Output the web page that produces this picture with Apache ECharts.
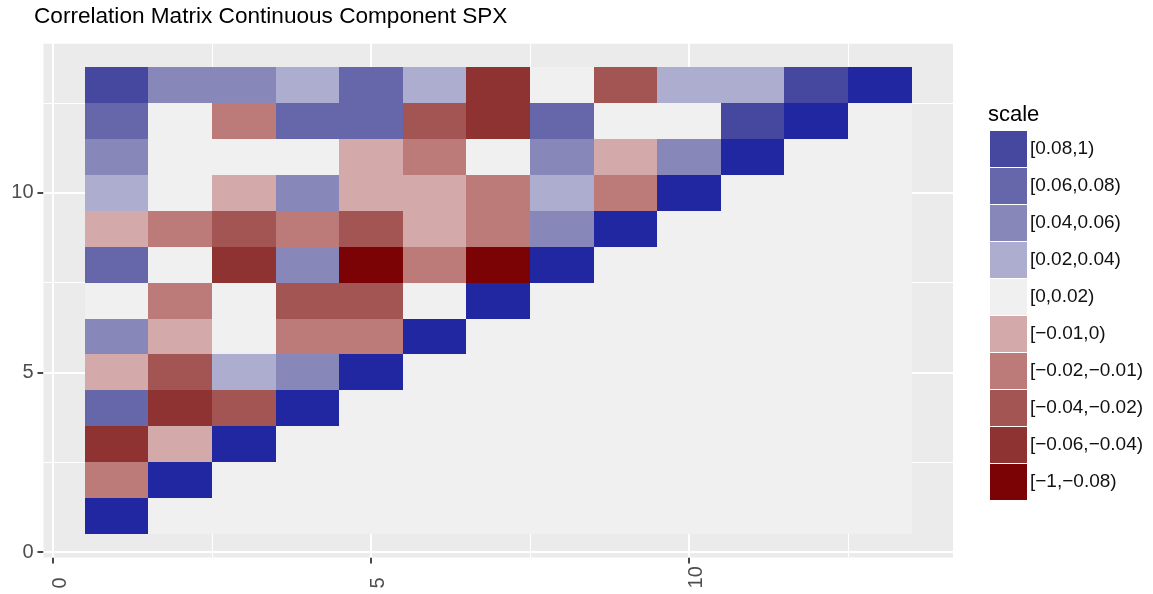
<!DOCTYPE html>
<html>
<head>
<meta charset="utf-8">
<title>Correlation Matrix Continuous Component SPX</title>
<script src="https://cdn.jsdelivr.net/npm/echarts@6/dist/echarts.min.js"></script>
<style>
html, body { margin: 0; padding: 0; background: #fff; }
#chart { width: 1153px; height: 594px; }
</style>
</head>
<body>
<div id="chart"></div>
<script>
// matrix columns (x) and rows (y), rows listed from the top of the plot down
const colIndex = [1, 2, 3, 4, 5, 6, 7, 8, 9, 10, 11, 12, 13];
const rowIndex = [13, 12, 11, 10, 9, 8, 7, 6, 5, 4, 3, 2, 1];

// correlations (only the colour bin is visible, so
// each value sits inside its bin); 1 = diagonal, 0 = empty upper part
const corrRows = [
  [0.09, 0.05, 0.05, 0.03, 0.07, 0.03, -0.05, 0.01, -0.03, 0.03, 0.03, 0.09, 1],
  [0.07, 0.01, -0.015, 0.07, 0.07, -0.03, -0.05, 0.07, 0.01, 0.01, 0.09, 1, 0],
  [0.05, 0.01, 0.01, 0.01, -0.005, -0.015, 0.01, 0.05, -0.005, 0.05, 1, 0, 0],
  [0.03, 0.01, -0.005, 0.05, -0.005, -0.005, -0.015, 0.03, -0.015, 1, 0, 0, 0],
  [-0.005, -0.015, -0.03, -0.015, -0.03, -0.005, -0.015, 0.05, 1, 0, 0, 0, 0],
  [0.07, 0.01, -0.05, 0.05, -0.09, -0.015, -0.09, 1, 0, 0, 0, 0, 0],
  [0.01, -0.015, 0.01, -0.03, -0.03, 0.01, 1, 0, 0, 0, 0, 0, 0],
  [0.05, -0.005, 0.01, -0.015, -0.015, 1, 0, 0, 0, 0, 0, 0, 0],
  [-0.005, -0.03, 0.03, 0.05, 1, 0, 0, 0, 0, 0, 0, 0, 0],
  [0.07, -0.05, -0.03, 1, 0, 0, 0, 0, 0, 0, 0, 0, 0],
  [-0.05, -0.005, 1, 0, 0, 0, 0, 0, 0, 0, 0, 0, 0],
  [-0.015, 1, 0, 0, 0, 0, 0, 0, 0, 0, 0, 0, 0],
  [1, 0, 0, 0, 0, 0, 0, 0, 0, 0, 0, 0, 0]
];

// legend bins, lowest first
const binLow = [-1, -0.06, -0.04, -0.02, -0.01, 0, 0.02, 0.04, 0.06, 0.08];
const binHigh = [-0.08, -0.04, -0.02, -0.01, 0, 0.02, 0.04, 0.06, 0.08, 1];
const binLabels = ['[\u22121,\u22120.08)', '[\u22120.06,\u22120.04)', '[\u22120.04,\u22120.02)',
  '[\u22120.02,\u22120.01)', '[\u22120.01,0)', '[0,0.02)', '[0.02,0.04)', '[0.04,0.06)',
  '[0.06,0.08)', '[0.08,1)'];

const axisTicks = [0, 5, 10];
const majorGrid = [0, 5, 10];
const minorGrid = [2.5, 7.5, 12.5];

const binColors = ['#7c0305', '#8e3232', '#a35554', '#bc7a79', '#d3a9a9',
  '#f0f0f0', '#adaecf', '#8788b9', '#6567aa', '#46479e'];
const diagColor = '#2027a1';
const font = 'Liberation Sans, Arial, Helvetica, sans-serif';

const cells = [];
const diag = [];
corrRows.forEach(function (row, r) {
  row.forEach(function (v, c) {
    const x = colIndex[c], y = rowIndex[r];
    if (x === y) diag.push([x, y, v]);
    else cells.push([x, y, v]);
  });
});

function tile(params, api) {
  const x = api.value(0), y = api.value(1);
  const a = api.coord([x - 0.5, y + 0.5]);
  const b = api.coord([x + 0.5, y - 0.5]);
  const x0 = Math.round(a[0]), y0 = Math.round(a[1]);
  return {
    type: 'rect',
    shape: { x: x0, y: y0, width: Math.round(b[0]) - x0, height: Math.round(b[1]) - y0 },
    style: { fill: api.visual('color') }
  };
}

const gridLines = [];
majorGrid.forEach(function (v) {
  gridLines.push({ xAxis: v, lineStyle: { width: 2 } });
  gridLines.push({ yAxis: v, lineStyle: { width: 2 } });
});
minorGrid.forEach(function (v) {
  gridLines.push({ xAxis: v, lineStyle: { width: 1 } });
  gridLines.push({ yAxis: v, lineStyle: { width: 1 } });
});

// ggplot draws no axis line, only the ticks: keep the line but make it invisible
const hiddenLine = { show: true, onZero: false, lineStyle: { color: 'rgba(0,0,0,0)' } };
const tickStyle = { show: true, inside: false, customValues: axisTicks, length: 6,
  lineStyle: { color: '#333333', width: 1.8 } };

const chart = echarts.init(document.getElementById('chart'));
chart.setOption({
  animation: false,
  textStyle: { fontFamily: font },
  title: [
    {
      text: 'Correlation Matrix Continuous Component SPX',
      left: 34, top: 5.5, padding: 0,
      textStyle: { fontSize: 22.6, fontWeight: 'normal', color: '#000', fontFamily: font }
    },
    {
      text: 'scale',
      left: 988, top: 104, padding: 0,
      textStyle: { fontSize: 22, fontWeight: 'normal', color: '#000', fontFamily: font }
    }
  ],
  grid: {
    left: 43.5, right: 200, top: 43.7, bottom: 36.6,
    show: true, backgroundColor: '#ebebeb', borderWidth: 0
  },
  xAxis: {
    type: 'value', min: -0.15, max: 14.15,
    axisLine: hiddenLine,
    splitLine: { show: false },
    axisTick: tickStyle,
    axisLabel: {
      customValues: axisTicks, rotate: 90, align: 'left', verticalAlign: 'top',
      lineHeight: 15, margin: 31, fontSize: 20, color: '#4d4d4d', fontFamily: font
    }
  },
  yAxis: {
    type: 'value', min: -0.15, max: 14.15,
    axisLine: hiddenLine,
    splitLine: { show: false },
    axisTick: tickStyle,
    axisLabel: { customValues: axisTicks, margin: 10, fontSize: 20, color: '#4d4d4d', fontFamily: font }
  },
  visualMap: {
    type: 'piecewise',
    seriesIndex: 0,
    dimension: 2,
    orient: 'vertical',
    align: 'left',
    left: 990, top: 131, padding: 0,
    itemWidth: 37, itemHeight: 36, itemGap: 1,
    itemSymbol: 'rect',
    textGap: 3,
    selectedMode: false,
    textStyle: { fontSize: 19, color: '#111', fontFamily: font },
    pieces: binLabels.map(function (label, i) {
      return { gte: binLow[i], lt: binHigh[i], label: label, color: binColors[i] };
    })
  },
  series: [
    {
      name: 'correlation',
      type: 'custom',
      renderItem: tile,
      encode: { x: 0, y: 1 },
      data: cells,
      z: 3
    },
    {
      name: 'diagonal',
      type: 'custom',
      renderItem: tile,
      encode: { x: 0, y: 1 },
      itemStyle: { color: diagColor },
      data: diag,
      z: 3
    },
    {
      name: 'grid',
      type: 'line',
      data: [],
      silent: true,
      markLine: {
        z: 1,
        silent: true,
        symbol: 'none',
        animation: false,
        label: { show: false },
        lineStyle: { color: '#ffffff', type: 'solid' },
        data: gridLines
      }
    }
  ]
});
</script>
</body>
</html>
